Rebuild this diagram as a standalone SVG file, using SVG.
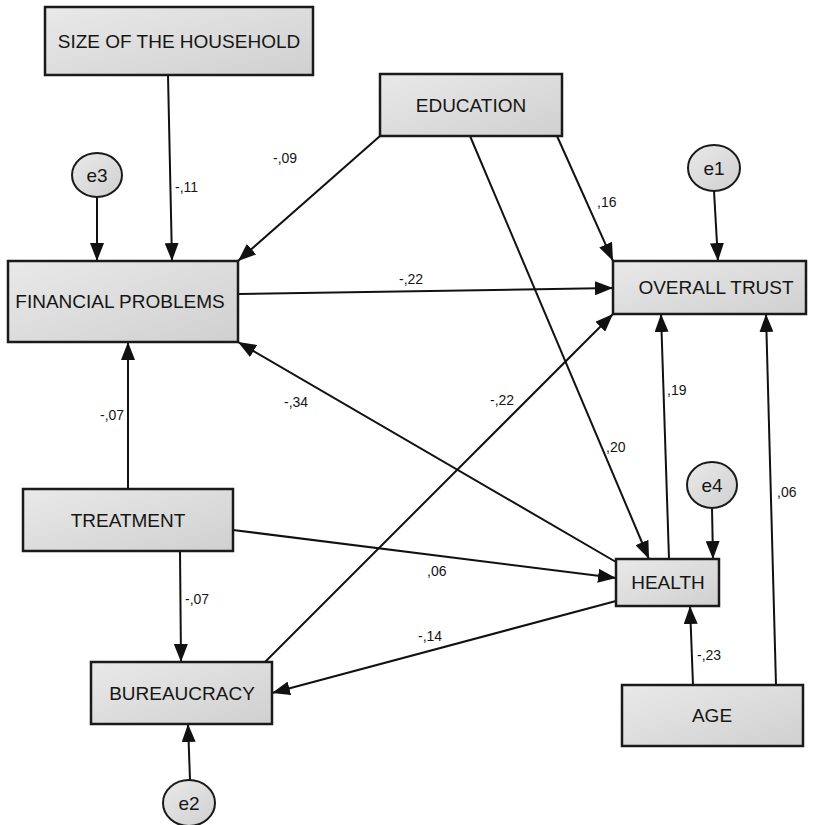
<svg xmlns="http://www.w3.org/2000/svg" width="817" height="825" viewBox="0 0 817 825">
<defs>
<linearGradient id="g" x1="0" y1="0" x2="1" y2="1">
<stop offset="0" stop-color="#e9e9e9"/>
<stop offset="1" stop-color="#d0d0d0"/>
</linearGradient>
<marker id="arr" markerUnits="userSpaceOnUse" markerWidth="18" markerHeight="14" refX="18" refY="7" orient="auto">
<path d="M0,0 L18,7 L0,14 z" fill="#111"/>
</marker>
<style>
.box{fill:url(#g);stroke:#1a1a1a;stroke-width:2.5}
.err{fill:url(#g);stroke:#1a1a1a;stroke-width:2}
.t{font-family:"Liberation Sans",Arial,sans-serif;font-size:19px;fill:#151515;text-anchor:middle}
.lb{font-family:"Liberation Sans",Arial,sans-serif;font-size:14px;fill:#151515}
.c line{stroke:#111;stroke-width:2;marker-end:url(#arr)}
</style>
</defs>
<rect width="817" height="825" fill="#fff"/>
<g class="c" id="connectors">
<line x1="168" y1="75" x2="172" y2="261"/>
<line x1="97" y1="197" x2="97" y2="261"/>
<line x1="380" y1="136" x2="238" y2="261"/>
<line x1="557" y1="136" x2="613" y2="261"/>
<line x1="470" y1="136" x2="649" y2="559"/>
<line x1="238" y1="294" x2="613" y2="288"/>
<line x1="616" y1="562" x2="238" y2="342"/>
<line x1="265" y1="662" x2="613" y2="314"/>
<line x1="669" y1="559" x2="661" y2="314"/>
<line x1="776" y1="685" x2="766" y2="314"/>
<line x1="714" y1="191" x2="718" y2="261"/>
<line x1="712" y1="508" x2="713" y2="559"/>
<line x1="693" y1="685" x2="690" y2="606"/>
<line x1="128" y1="489" x2="128" y2="342"/>
<line x1="233" y1="530" x2="616" y2="578"/>
<line x1="180" y1="551" x2="181" y2="662"/>
<line x1="616" y1="601" x2="272" y2="693"/>
<line x1="190" y1="780" x2="188" y2="724"/>
</g>
<g id="labels">
<text class="lb" x="175" y="192">-,11</text>
<text class="lb" x="273" y="163">-,09</text>
<text class="lb" x="597" y="207">,16</text>
<text class="lb" x="399" y="284">-,22</text>
<text class="lb" x="284" y="407">-,34</text>
<text class="lb" x="490" y="405">-,22</text>
<text class="lb" x="606" y="452">,20</text>
<text class="lb" x="667" y="395">,19</text>
<text class="lb" x="777" y="497">,06</text>
<text class="lb" x="100" y="420">-,07</text>
<text class="lb" x="185" y="604">-,07</text>
<text class="lb" x="427" y="576">,06</text>
<text class="lb" x="418" y="641">-,14</text>
<text class="lb" x="697" y="660">-,23</text>
</g>
<g id="size"><rect class="box" x="45" y="7" width="268" height="68"/><text class="t" x="179" y="48">SIZE OF THE HOUSEHOLD</text></g>
<g id="education"><rect class="box" x="380" y="74" width="182" height="62"/><text class="t" x="471" y="112">EDUCATION</text></g>
<g id="financial"><rect class="box" x="8" y="261" width="230" height="81"/><text class="t" x="120" y="308">FINANCIAL PROBLEMS</text></g>
<g id="trust"><rect class="box" x="613" y="261" width="193" height="53"/><text class="t" x="716" y="294">OVERALL TRUST</text></g>
<g id="treatment"><rect class="box" x="23" y="489" width="210" height="62"/><text class="t" x="128" y="527">TREATMENT</text></g>
<g id="health"><rect class="box" x="616" y="559" width="103" height="47"/><text class="t" x="668" y="589">HEALTH</text></g>
<g id="bureaucracy"><rect class="box" x="91" y="662" width="181" height="62"/><text class="t" x="182" y="700">BUREAUCRACY</text></g>
<g id="age"><rect class="box" x="622" y="685" width="181" height="61"/><text class="t" x="712" y="722">AGE</text></g>
<g id="e3"><ellipse class="err" cx="97" cy="175" rx="25" ry="22"/><text class="t" x="97" y="182">e3</text></g>
<g id="e1"><ellipse class="err" cx="714" cy="168" rx="26" ry="23"/><text class="t" x="714" y="175">e1</text></g>
<g id="e4"><ellipse class="err" cx="712" cy="485" rx="25" ry="23"/><text class="t" x="712" y="492">e4</text></g>
<g id="e2"><ellipse class="err" cx="189" cy="803" rx="26" ry="23"/><text class="t" x="189" y="810">e2</text></g>
</svg>
